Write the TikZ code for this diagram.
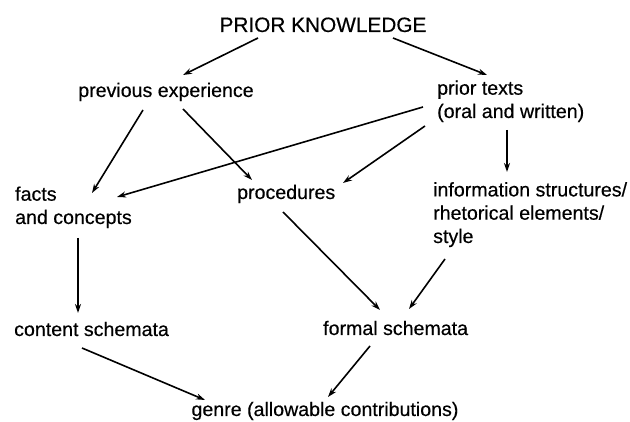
\documentclass[tikz,border=0pt]{standalone}
\usepackage{fontspec}
\newfontfamily\diafont[FakeBold=0.4]{Liberation Sans}
\usetikzlibrary{arrows.meta}
\begin{document}
\begin{tikzpicture}[x=1pt, y=-1pt,
	every node/.style={inner sep=0pt, align=left, font=\diafont\fontsize{19.6}{23.3}\selectfont},
	big/.style={font=\diafont\fontsize{20.8}{24}\selectfont},
	link/.style={-{Stealth[length=9pt, width=6pt]}, line width=1.6pt}]

	\useasboundingbox (0,0) rectangle (630,422);

	\node[big, anchor=base] (pk) at (323,32) {PRIOR KNOWLEDGE};
	\node[anchor=base] (prev) at (166,97) {previous experience};
	\node[anchor=base west] (prior) at (437,118) {prior texts\\(oral and written)};
	\node[anchor=base west] (facts) at (15,224) {facts\\and concepts};
	\node[anchor=base west] (proc) at (237,199) {procedures};
	\node[anchor=base west] (info) at (433,243) {information structures/\\rhetorical elements/\\style};
	\node[anchor=base west] (content) at (14,336) {content schemata};
	\node[anchor=base west] (formal) at (323,335) {formal schemata};
	\node[anchor=base] (genre) at (325,416) {genre (allowable contributions)};

	\draw[link] ([shift={(-65,6)}]pk.base) -- ([shift={(17,-22)}]prev.base);
	\draw[link] ([shift={(70,6)}]pk.base) -- ([shift={(50,-43)}]prior.base west);
	\draw[link] ([shift={(-23,13)}]prev.base) -- ([shift={(77,-31)}]facts.base west);
	\draw[link] ([shift={(17,12)}]prev.base) -- ([shift={(15,-19)}]proc.base west);
	\draw[link] ([shift={(-14,-11)}]prior.base west) -- ([shift={(102,-27)}]facts.base west);
	\draw[link] ([shift={(-12,8)}]prior.base west) -- ([shift={(106,-16)}]proc.base west);
	\draw[link] ([shift={(70,12)}]prior.base west) -- ([shift={(74,-71)}]info.base west);
	\draw[link] ([shift={(63,14)}]facts.base west) -- ([shift={(64,-23)}]content.base west);
	\draw[link] ([shift={(46,13)}]proc.base west) -- ([shift={(57,-25)}]formal.base west);
	\draw[link] ([shift={(12,16)}]info.base west) -- ([shift={(86,-26)}]formal.base west);
	\draw[link] ([shift={(68,12)}]content.base west) -- ([shift={(-120,-16)}]genre.base);
	\draw[link] ([shift={(47,11)}]formal.base west) -- ([shift={(3,-19)}]genre.base);
\end{tikzpicture}
\end{document}
